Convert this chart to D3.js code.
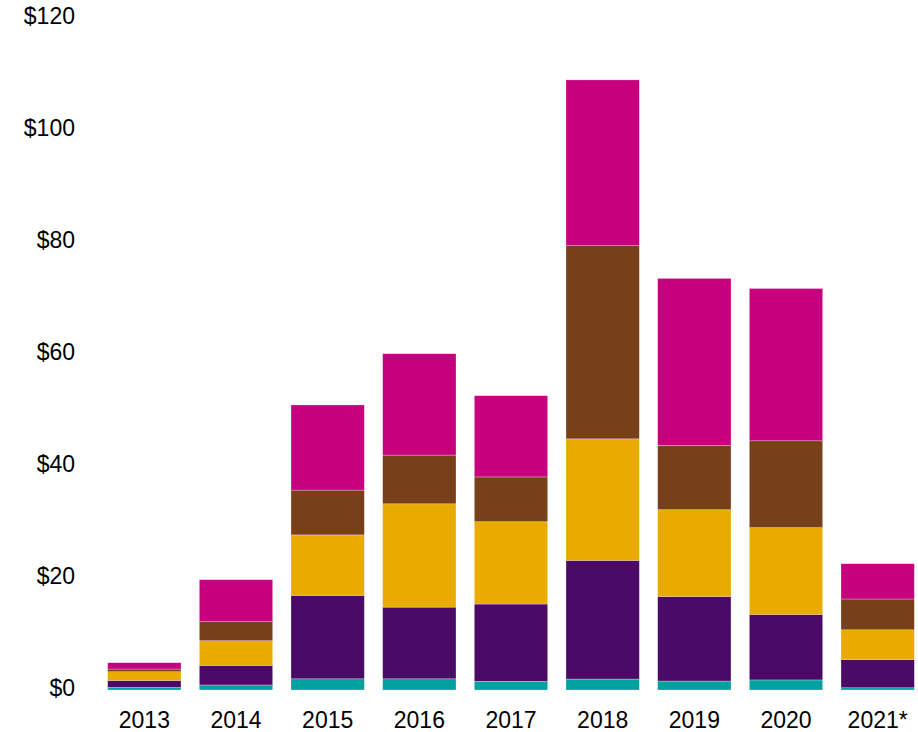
<!DOCTYPE html>
<html>
<head>
<meta charset="utf-8">
<script src="https://cdn.jsdelivr.net/npm/d3@7"></script>
<style>
  html, body { margin: 0; padding: 0; background: #fff; }
  svg { display: block; }
  text { font-family: Arial, "Liberation Sans", sans-serif; fill: #000; }
</style>
</head>
<body>
<svg id="chart" width="918" height="732"></svg>
<script>
const years = ["2013", "2014", "2015", "2016", "2017", "2018", "2019", "2020", "2021*"];
const seriesNames = ["s1", "s2", "s3", "s4", "s5"];
const s1 = [0.46, 0.9, 2.0, 2.0, 1.55, 1.95, 1.6, 1.8, 0.4];
const s2 = [1.25, 3.5, 14.9, 12.8, 13.8, 21.2, 15.1, 11.7, 5.05];
const s3 = [1.55, 4.4, 10.8, 18.45, 14.7, 21.7, 15.5, 15.5, 5.3];
const s4 = [0.48, 3.4, 8.0, 8.7, 8.0, 34.5, 11.5, 15.5, 5.5];
const s5 = [1.13, 7.5, 15.2, 18.1, 14.5, 29.6, 29.8, 27.2, 6.3];
const colors = ["#00A19F", "#4A0A66", "#EAAB00", "#773F1A", "#C6007E"];
const yTicks = [0, 20, 40, 60, 80, 100, 120];

const seriesValues = [s1, s2, s3, s4, s5];
const rows = years.map((y, i) => {
  const r = { year: y };
  seriesNames.forEach((n, k) => r[n] = seriesValues[k][i]);
  return r;
});

const svg = d3.select("#chart");
const x = d3.scaleBand().domain(years).range([98.5, 923.5]).paddingInner(0.2).paddingOuter(0.1);
const y = d3.scaleLinear().domain([0, 120]).range([690, 18]);

const stack = d3.stack().keys(seriesNames)(rows);

svg.append("g")
  .selectAll("g")
  .data(stack)
  .join("g")
  .attr("fill", (d, i) => colors[i])
  .selectAll("rect")
  .data(d => d)
  .join("rect")
  .attr("x", d => x(d.data.year))
  .attr("width", x.bandwidth())
  .attr("y", d => y(d[1]))
  .attr("height", d => y(d[0]) - y(d[1]))
  .attr("stroke", "rgba(255,255,255,0.45)")
  .attr("stroke-width", 0.6);

// y axis
const yAxis = d3.axisLeft(y).tickValues(yTicks).tickFormat(d => "$" + d).tickSize(0).tickPadding(0);
const gy = svg.append("g").attr("transform", "translate(75,-2)").call(yAxis);
gy.select(".domain").remove();
gy.selectAll("text").attr("font-size", 23).attr("font-family", "Arial, 'Liberation Sans', sans-serif").attr("fill", "#000");

// x axis
const xAxis = d3.axisBottom(x).tickSize(0).tickPadding(0);
const gx = svg.append("g").attr("transform", "translate(0,720)").call(xAxis);
gx.select(".domain").remove();
gx.selectAll("text").attr("font-size", 23).attr("dy", "0.35em").attr("font-family", "Arial, 'Liberation Sans', sans-serif").attr("fill", "#000");
</script>
</body>
</html>
